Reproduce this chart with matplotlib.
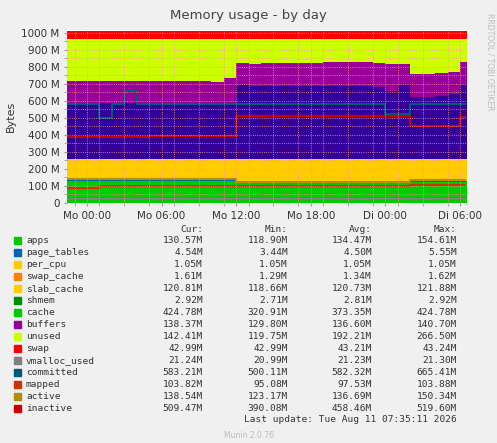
import matplotlib
matplotlib.use("Agg")
import matplotlib.pyplot as plt
import numpy as np

hours = list(range(-2, 32))
n = len(hours)
apps = [128]*14 + [122]*14 + [124]*6
page_tables = [4.5]*n
per_cpu = [1.05]*n
swap_cache = [1.5]*n
slab_cache = [120]*14 + [126]*14 + [124]*6
shmem = [2.8]*n
cache_top = [588]*14 + [690, 685, 688, 686, 684, 685, 688, 686, 684, 688, 686, 680, 660, 690][:14] + [620, 625, 630, 640, 690, 690]
buffers_top = [715]*12 + [712, 735] + [820, 818, 820, 822, 820, 822, 824, 826, 826, 828, 826, 820, 815, 818] + [755, 760, 765, 768, 825, 825]
unused_top = [965]*n
swap = [43]*n

vmalloc = [21.2]*n
committed = [583]*n
committed[3] = 500; committed[5] = 660; committed[26] = 525; committed[27] = 525
mapped = [88]*3 + [98]*25 + [103]*6
active = [142]*14 + [125]*14 + [135]*6
inactive = [390]*7 + [395]*7 + [512]*14 + [450]*4 + [505]*2

h = np.array(hours)
base = np.zeros(n)
layers = []
for arr, c in [(apps, '#00cc00'), (page_tables, '#0066b3'), (per_cpu, '#ff8000'),
               (swap_cache, '#ffcc00'), (slab_cache, '#ffcc00'), (shmem, '#00cc00')]:
    top = base + np.array(arr)
    layers.append((base.copy(), top, c))
    base = top
stack_low = base.copy()
layers.append((stack_low, np.array(cache_top, float), '#330099'))
layers.append((np.array(cache_top, float), np.array(buffers_top, float), '#990099'))
layers.append((np.array(buffers_top, float), np.array(unused_top, float), '#ccff00'))
layers.append((np.array(unused_top, float), np.array(unused_top, float) + np.array(swap), '#ff0000'))

fig = plt.figure(figsize=(4.97, 4.43), dpi=100, facecolor='#f0f0f0')
ax = fig.add_axes([0.135, 0.542, 0.803, 0.39])
ax.set_facecolor('white')
for lo, hi, c in layers:
    ax.fill_between(h, lo, hi, step='post', color=c, lw=0)
ax.step(h, vmalloc, where='post', color='#808080', lw=1.5)
ax.step(h, committed, where='post', color='#005a7a', lw=1.5)
ax.step(h, mapped, where='post', color='#cc3300', lw=1.5)
ax.step(h, active, where='post', color='#b09000', lw=1.5)
ax.step(h, inactive, where='post', color='#cc0000', lw=1.5)

ax.set_xlim(-1.6, 30.5)
ax.set_ylim(0, 1015)
ax.set_yticks(range(0, 1001, 100))
ax.set_yticklabels(['0'] + [f'{v} M' for v in range(100, 1001, 100)], fontsize=7.5, color='#333333')
ax.set_xticks([0, 6, 12, 18, 24, 30])
ax.set_xticklabels(['Mo 00:00', 'Mo 06:00', 'Mo 12:00', 'Mo 18:00', 'Di 00:00', 'Di 06:00'], fontsize=7.5, color='#333333')
ax.set_xticks(np.arange(-1, 31, 2), minor=True)
ax.set_yticks(range(50, 1001, 100), minor=True)
ax.grid(True, which='both', color='#ff9999', ls=':', lw=0.6)
ax.set_axisbelow(False)
for s in ax.spines.values():
    s.set_visible(False)
ax.tick_params(length=2, color='#999999', which='both')
ax.set_ylabel('Bytes', fontsize=8, color='#333333')
fig.text(0.5, 0.965, 'Memory usage - by day', ha='center', va='center', fontsize=9.5, color='#444444')
fig.text(0.985, 0.86, 'RRDTOOL / TOBI OETIKER', rotation=270, ha='center', va='center', fontsize=5.5, color='#bbbbbb')

names = ['apps', 'page_tables', 'per_cpu', 'swap_cache', 'slab_cache', 'shmem', 'cache', 'buffers',
         'unused', 'swap', 'vmalloc_used', 'committed', 'mapped', 'active', 'inactive']
colors = ['#00cc00', '#0066b3', '#ffcc00', '#ff8000', '#ffcc00', '#008f00', '#00cc00', '#990099',
          '#ccff00', '#ff0000', '#808080', '#005a7a', '#cc3300', '#b09000', '#cc0000']
cur = ['130.57M', '4.54M', '1.05M', '1.61M', '120.81M', '2.92M', '424.78M', '138.37M', '142.41M', '42.99M', '21.24M', '583.21M', '103.82M', '138.54M', '509.47M']
mn = ['118.90M', '3.44M', '1.05M', '1.29M', '118.66M', '2.71M', '320.91M', '129.80M', '119.75M', '42.99M', '20.99M', '500.11M', '95.08M', '123.17M', '390.08M']
avg = ['134.47M', '4.50M', '1.05M', '1.34M', '120.73M', '2.81M', '373.35M', '136.60M', '192.21M', '43.21M', '21.23M', '582.32M', '97.53M', '136.69M', '458.46M']
mx = ['154.61M', '5.55M', '1.05M', '1.62M', '121.88M', '2.92M', '424.78M', '140.70M', '266.50M', '43.24M', '21.30M', '665.41M', '103.88M', '150.34M', '519.60M']

W, H = 497, 443
def fx(px): return px / W
def fy(py): return 1 - py / H
fs = 6.8
mono = 'DejaVu Sans Mono'
tc = '#333333'
fig.text(fx(203), fy(229), 'Cur:', ha='right', va='center', fontsize=fs, family=mono, color=tc)
fig.text(fx(288), fy(229), 'Min:', ha='right', va='center', fontsize=fs, family=mono, color=tc)
fig.text(fx(372), fy(229), 'Avg:', ha='right', va='center', fontsize=fs, family=mono, color=tc)
fig.text(fx(457), fy(229), 'Max:', ha='right', va='center', fontsize=fs, family=mono, color=tc)
for i, nm in enumerate(names):
    y = 240 + i * 12.05
    fig.patches.append(plt.Rectangle((fx(14), fy(y + 3.5)), fx(7), 7 / H, transform=fig.transFigure, color=colors[i], figure=fig))
    fig.text(fx(26), fy(y), nm, ha='left', va='center', fontsize=fs, family=mono, color=tc)
    fig.text(fx(203), fy(y), cur[i], ha='right', va='center', fontsize=fs, family=mono, color=tc)
    fig.text(fx(288), fy(y), mn[i], ha='right', va='center', fontsize=fs, family=mono, color=tc)
    fig.text(fx(372), fy(y), avg[i], ha='right', va='center', fontsize=fs, family=mono, color=tc)
    fig.text(fx(457), fy(y), mx[i], ha='right', va='center', fontsize=fs, family=mono, color=tc)
fig.text(fx(457), fy(420), 'Last update: Tue Aug 11 07:35:11 2026', ha='right', va='center', fontsize=fs, family=mono, color=tc)
fig.text(0.5, fy(436), 'Munin 2.0.76', ha='center', va='center', fontsize=5.5, color='#bbbbbb')
fig.savefig('out.png', dpi=100, facecolor=fig.get_facecolor())
